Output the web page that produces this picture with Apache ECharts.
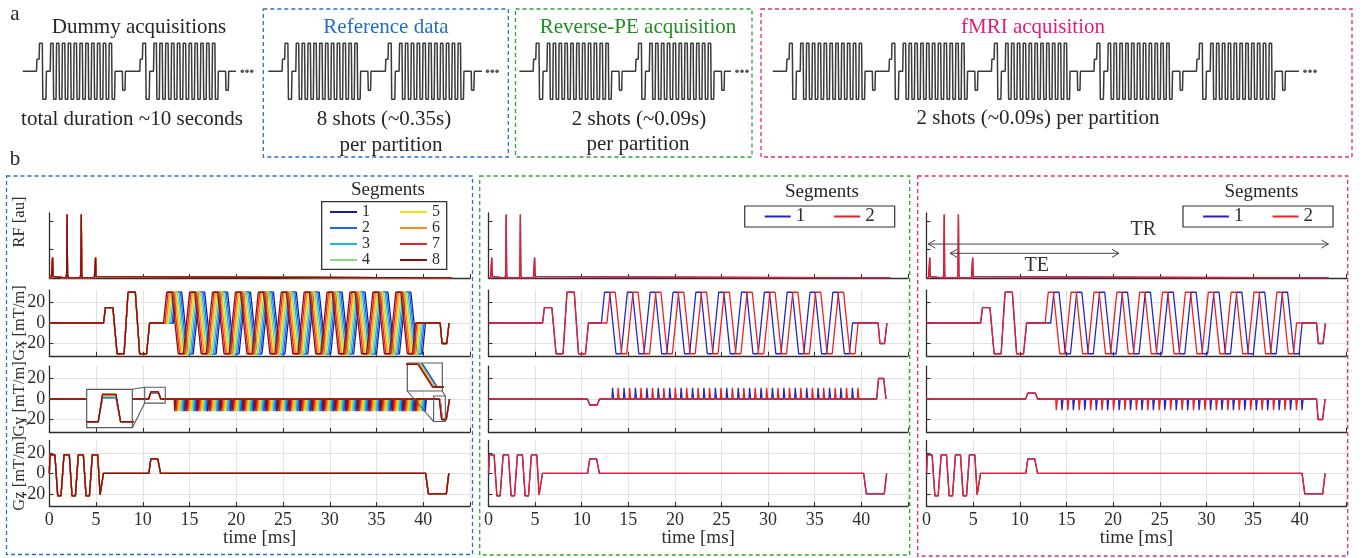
<!DOCTYPE html>
<html><head><meta charset="utf-8">
<script src="https://cdn.jsdelivr.net/npm/echarts@6.0.0/dist/echarts.min.js"></script>
<style>html,body{margin:0;padding:0;background:#fff}#c{width:1363px;height:558px}</style>
</head><body><div id="c"></div>
<script>
// ================= DATA =================
// time axis
const timeTickLabels = [0, 5, 10, 15, 20, 25, 30, 35, 40];
const timeTickMarks = [0, 5, 10, 15, 20, 25, 30, 35, 40, 45];
const gradTicks = [-20, 0, 20];
const rfTicks = [1, 2];

// RF pulses [ms], [au]
const rfT = [0, 0.22, 0.3, 0.35, 0.4, 0.48, 1.77, 1.85, 1.9, 1.95, 2.03, 3.29, 3.37, 3.42, 3.47, 3.55, 4.82, 4.9, 4.95, 5.0, 5.08, 43.1];
const rfA = [0, 0, 0.05, 0.72, 0.05, 0, 0, 0.12, 2.25, 0.12, 0, 0, 0.12, 2.25, 0.12, 0, 0, 0.05, 0.72, 0.05, 0, 0];

// Gx: prephasing part, EPI readout (reference segment), post part
const gxPreT = [0, 5.8, 6.0, 6.8, 7.25, 8.0, 8.42, 9.2, 9.66, 10.4, 10.73];
const gxPreG = [0, 0, 15, 15, -30, -30, 30, 30, -30, -30, 0];
const gxReadT = [12.11, 12.45, 13.00, 13.68, 14.23, 14.90, 15.45, 16.13, 16.68, 17.35, 17.90, 18.58, 19.13, 19.80,
  20.35, 21.03, 21.58, 22.25, 22.80, 23.48, 24.03, 24.70, 25.25, 25.93, 26.48, 27.15, 27.70, 28.38, 28.93, 29.60,
  30.15, 30.83, 31.38, 32.05, 32.60, 33.28, 33.83, 34.50, 35.05, 35.73, 36.28, 36.95, 37.50, 38.18, 38.73, 39.06];
const gxReadG = [0, 30, 30, -30, -30, 30, 30, -30, -30, 30, 30, -30, -30, 30,
  30, -30, -30, 30, 30, -30, -30, 30, 30, -30, -30, 30, 30, -30, -30, 30,
  30, -30, -30, 30, 30, -30, -30, 30, 30, -30, -30, 30, 30, -30, -30, 0];
const gxPostT = [41.8, 42.0, 42.5, 42.75];
const gxPostG = [0, -20, -20, 0];

// Gz
const gzT = [0, 0.08, 0.6, 0.9, 1.25, 1.57, 2.14, 2.43, 2.79, 3.1, 3.64, 3.93, 4.29, 4.6, 5.18, 5.43, 5.6, 5.79, 10.64, 10.86, 11.6, 11.9, 40.25, 40.54, 42.46, 42.72];
const gzG = [0, 18, 18, -22, -22, 18, 18, -22, -22, 18, 18, -22, -22, 18, 18, -21, -21, 0, 0, 14, 14, 0, 0, -20, -20, 0];

// Gy: prephaser lobe shape, blip centres, blip shape
const gyPreT = [0, 10.62, 10.87, 11.65, 11.92];
const gyPreLevel = [0, 0, 1, 1, 0];
const blipT = [13.34, 14.57, 15.79, 17.02, 18.24, 19.47, 20.69, 21.92, 23.14, 24.37, 25.59, 26.82, 28.04, 29.27, 30.49, 31.72, 32.94, 34.17, 35.39, 36.62, 37.84, 39.07];
const blipShapeDt = [-0.09, -0.03, 0.03, 0.09];
const blipShapeLevel = [0, 1, 1, 0];

// panel 1 (8 segments)
const p1Names = ['1', '2', '3', '4', '5', '6', '7', '8'];
const p1Colors = ['#1a1aa8', '#1666ee', '#1fb2e8', '#7fdf7f', '#f3df0a', '#ff8a1c', '#ee2222', '#8c0f0f'];
const p1Shift = [1.17, 1.02, 0.87, 0.71, 0.56, 0.41, 0.25, 0.10];
const p1GyPreAmp = [6.02, 6.16, 6.30, 6.44, 6.58, 6.72, 6.86, 7.00];
const p1BlipAmp = -12;
const p1GyRewT = [41.7, 41.95, 42.45, 42.8];
const p1GyRewG = [0, -20, -20, 0];
const p1RewDelay = [0.084, 0.072, 0.060, 0.048, 0.036, 0.024, 0.012, 0];

// panel 2 (reverse PE, 2 segments)
const p2Names = ['1 ', '2 '];
const p23Colors = ['#2323cc', '#ee1f1f'];
const p2Shift = [0, 0.6];
const p2GyPreAmp = [-6.0, -5.6];
const p2BlipAmp = 11;
const p2GyRewT = [41.65, 41.85, 42.4, 42.65];
const p2GyRewG = [0, 20, 20, 0];
const p2RewDelay = [0, 0];

// panel 3 (fMRI, 2 segments)
const p3Shift = [1.2, 0.6];
const p3GyPreAmp = [5.7, 6.0];
const p3BlipAmp = -11;
const p3GyRewT = [41.8, 41.97, 42.45, 42.72];
const p3GyRewG = [0, -20, -20, 0];
const p3RewDelay = [0, 0];

// TR / TE arrows (t0, t1, y, labelT, labelY) in panel 3 RF units
const arrowLabels = ['TR', 'TE'];
const arrowData = [[0.19, 43.07, 1.2, 23.24, 1.70], [2.52, 20.63, 0.874, 11.81, 0.435]];

// ---- section (a): schematic shot waveform (pattern units = px)
const shotX = [0, 13.8, 14.2, 16.4, 16.8, 19.6, 20.1, 23.2, 23.7, 27.5,
  28.0, 30.4, 30.9, 33.35, 33.85, 36.25, 36.75, 39.2, 39.7, 42.1, 42.6, 45.05,
  45.55, 47.95, 48.45, 50.9, 51.4, 53.8, 54.3, 56.75, 57.25, 59.65, 60.15, 62.6,
  63.1, 65.5, 66.0, 68.45, 68.95, 71.35, 71.85, 74.3, 74.8, 77.2, 77.7, 80.15,
  80.65, 83.05, 83.55, 86.0, 86.5, 88.9, 89.4, 91.85,
  92.35, 99.6, 100.0, 102.3, 102.7, 103.3];
const shotY = [0, 0, 0.43, 0.43, 1, 1, -1, -1, 0, 0,
  1, 1, -1, -1, 1, 1, -1, -1, 1, 1, -1, -1,
  1, 1, -1, -1, 1, 1, -1, -1, 1, 1, -1, -1,
  1, 1, -1, -1, 1, 1, -1, -1, 1, 1, -1, -1,
  1, 1, -1, -1, 1, 1, -1, -1,
  0, 0, -0.68, -0.68, 0, 0];
const dummyShots = [22.7, 126.0], dummyTail = 236, dummyDots = [242.3, 247, 251.7];
const refShots = [268.3, 371.6], refTail = 482, refDots = [487.5, 492.3, 497.1];
const revShots = [519.4, 621.8], revTail = 731, revDots = [737, 742, 747];
const fmriShots = [772.7, 875.2, 977.7, 1080.2, 1182.7], fmriTail = 1299, fmriDots = [1305, 1310, 1315];

// ================= BUILD =================
const FONT = 'Liberation Serif';
const FONTCSS = '"Liberation Serif", "Times New Roman", serif';
const AX = '#2e2e2e';
const GRIDC = '#e2e2e2';

function pts(T, G, dt) { return T.map((t, i) => [t + (dt || 0), G[i]]); }
function gxData(dt) { return [].concat(pts(gxPreT, gxPreG), pts(gxReadT, gxReadG, dt), pts(gxPostT, gxPostG)); }
function gyData(preAmp, dt, blipAmp, rewT, rewG, rewDelay) {
  let out = gyPreT.map((t, i) => [t, gyPreLevel[i] * preAmp]);
  blipT.forEach(c => blipShapeDt.forEach((d, j) => out.push([c + dt + d, blipShapeLevel[j] * blipAmp])));
  rewT.forEach((t, i) => out.push([i < 2 ? t + rewDelay : t, rewG[i]]));
  return out;
}

const panels = [
  { left: 49.3, width: 420.8, names: p1Names, colors: p1Colors, shift: p1Shift, pre: p1GyPreAmp, blip: p1BlipAmp, rewT: p1GyRewT, rewG: p1GyRewG, rewD: p1RewDelay },
  { left: 488.5, width: 419.4, names: p2Names, colors: p23Colors, shift: p2Shift, pre: p2GyPreAmp, blip: p2BlipAmp, rewT: p2GyRewT, rewG: p2GyRewG, rewD: p2RewDelay },
  { left: 926.5, width: 419.9, names: p2Names, colors: p23Colors, shift: p3Shift, pre: p3GyPreAmp, blip: p3BlipAmp, rewT: p3GyRewT, rewG: p3GyRewG, rewD: p3RewDelay }
];
const rows = [
  { top: 213, height: 65, min: 0, max: 2.3, ticks: rfTicks, name: 'RF [au]', grid: false, labels: false },
  { top: 290.2, height: 65.6, min: -32, max: 32, ticks: gradTicks, name: 'Gx [mT/m]', grid: true, labels: true },
  { top: 366.2, height: 65.6, min: -32, max: 32, ticks: gradTicks, name: 'Gy [mT/m]', grid: true, labels: true },
  { top: 440.5, height: 65.6, min: -32, max: 32, ticks: gradTicks, name: 'Gz [mT/m]', grid: true, labels: true }
];

const option = { animation: false, grid: [], xAxis: [], yAxis: [], series: [], legend: [], graphic: { elements: [] } };

panels.forEach((P, p) => {
  rows.forEach((R, r) => {
    option.grid.push({ left: P.left, top: R.top, width: P.width, height: R.height, containLabel: false, outerBoundsMode: 'none' });
    option.xAxis.push({
      gridIndex: p * 4 + r, type: 'value', min: 0, max: 45, interval: 5,
      axisLine: { show: true, onZero: false, lineStyle: { color: AX, width: 1.3 } },
      axisTick: { show: true, inside: true, length: 4, customValues: timeTickMarks, lineStyle: { color: AX, width: 1.1 } },
      axisLabel: { show: r === 3, customValues: timeTickLabels, margin: 5, fontFamily: FONT, fontSize: 18, color: AX,
        formatter: v => (v === 45 ? '' : String(v)) },
      splitLine: { show: R.grid, lineStyle: { color: GRIDC, width: 1 } },
      name: r === 3 ? 'time [ms]' : '', nameLocation: 'middle', nameGap: 22, nameMoveOverlap: false,
      nameTextStyle: { fontFamily: FONT, fontSize: 19, color: AX }
    });
    option.yAxis.push({
      gridIndex: p * 4 + r, type: 'value', min: R.min, max: R.max,
      axisLine: { show: true, onZero: false, lineStyle: { color: AX, width: 1.3 } },
      axisTick: { show: true, inside: true, length: 4, customValues: R.ticks, lineStyle: { color: AX, width: 1.1 } },
      axisLabel: { show: p === 0 && R.labels, customValues: R.ticks, margin: 4, fontFamily: FONT, fontSize: 18, color: AX },
      splitLine: { show: R.grid, lineStyle: { color: GRIDC, width: 1 } },
      name: p === 0 ? R.name : '', nameLocation: 'middle', nameRotate: 90, nameGap: 21, nameMoveOverlap: false,
      nameTextStyle: { fontFamily: FONT, fontSize: 16.5, color: AX, padding: r === 0 ? [0, 0, 0, 47] : 0 }
    });
  });
  P.names.forEach((nm, k) => {
    const col = P.colors[k];
    const base = { type: 'line', name: nm, showSymbol: false, symbol: 'none', silent: true, animation: false,
      lineStyle: { width: 1.3, color: col }, itemStyle: { color: col }, z: 2 };
    option.series.push(Object.assign({}, base, { xAxisIndex: p * 4, yAxisIndex: p * 4, data: pts(rfT, rfA) }));
    option.series.push(Object.assign({}, base, { xAxisIndex: p * 4 + 1, yAxisIndex: p * 4 + 1, data: gxData(P.shift[k]) }));
    option.series.push(Object.assign({}, base, { xAxisIndex: p * 4 + 2, yAxisIndex: p * 4 + 2,
      data: gyData(P.pre[k], P.shift[k], P.blip, P.rewT, P.rewG, P.rewD[k]) }));
    option.series.push(Object.assign({}, base, { xAxisIndex: p * 4 + 3, yAxisIndex: p * 4 + 3, data: pts(gzT, gzG) }));
  });
});

// insets (grid 12: prephaser zoom, grid 13: rewinder ramp zoom)
const insets = [
  { left: 86.7, top: 389.3, width: 45.6, height: 38.4, xr: [9.95, 12.6], yr: [-1.5, 8.2], rect: [10.2, 12.4, -4, 11.5] },
  { left: 407.3, top: 363, width: 35, height: 28, xr: [41.52, 42.12], yr: [-23.5, 1.1], rect: [41.1, 42.35, -22, 3] }
];
insets.forEach((I, n) => {
  const gi = 12 + n;
  option.grid.push({ left: I.left, top: I.top, width: I.width, height: I.height, show: true, backgroundColor: '#fff',
    borderColor: '#5a5a5a', borderWidth: 1.2, z: 5, containLabel: false, outerBoundsMode: 'none' });
  option.xAxis.push({ gridIndex: gi, type: 'value', min: I.xr[0], max: I.xr[1], show: false });
  option.yAxis.push({ gridIndex: gi, type: 'value', min: I.yr[0], max: I.yr[1], show: false });
  p1Names.forEach((nm, k) => {
    option.series.push({ type: 'line', name: 'inset' + n + '_' + k, xAxisIndex: gi, yAxisIndex: gi, clip: true,
      showSymbol: false, symbol: 'none', silent: true, z: 6,
      lineStyle: { width: 1.3, color: p1Colors[k] }, itemStyle: { color: p1Colors[k] },
      data: gyData(p1GyPreAmp[k], p1Shift[k], p1BlipAmp, p1GyRewT, p1GyRewG, p1RewDelay[k]) });
  });
});

// TR / TE arrows on panel 3 RF
option.series.push({
  type: 'custom', name: 'arrows', xAxisIndex: 8, yAxisIndex: 8, silent: true, clip: false, z: 3,
  encode: { x: [0, 1, 3], y: [2, 4] },
  data: arrowData,
  renderItem: (params, api) => {
    const y = api.value(2);
    const p0 = api.coord([api.value(0), y]);
    const p1 = api.coord([api.value(1), y]);
    const lt = api.coord([api.value(3), api.value(4)]);
    const h = 7, w = 4;
    const st = { stroke: '#444', fill: 'none', lineWidth: 1 };
    return { type: 'group', children: [
      { type: 'line', shape: { x1: p0[0], y1: p0[1], x2: p1[0], y2: p1[1] }, style: st },
      { type: 'polyline', shape: { points: [[p0[0] + h, p0[1] - w], [p0[0], p0[1]], [p0[0] + h, p0[1] + w]] }, style: st },
      { type: 'polyline', shape: { points: [[p1[0] - h, p1[1] - w], [p1[0], p1[1]], [p1[0] - h, p1[1] + w]] }, style: st },
      { type: 'text', x: lt[0], y: lt[1], style: { text: arrowLabels[params.dataIndex], font: '20px ' + FONTCSS, fill: '#333', align: 'center', verticalAlign: 'middle' } }
    ] };
  }
});

// section (a) schematic grid (index 14)
option.grid.push({ left: 0, top: 37.7, width: 1363, height: 67.2, containLabel: false, outerBoundsMode: 'none' });
option.xAxis.push({ gridIndex: 14, type: 'value', min: 0, max: 1363, show: false });
option.yAxis.push({ gridIndex: 14, type: 'value', min: -1.2, max: 1.2, show: false });
[[dummyShots, dummyTail, dummyDots], [refShots, refTail, refDots], [revShots, revTail, revDots], [fmriShots, fmriTail, fmriDots]]
  .forEach(([shots, tail, dots], b) => {
    let d = [];
    shots.forEach(s => shotX.forEach((x, i) => d.push([x + s, shotY[i]])));
    d.push([tail, 0]);
    option.series.push({ type: 'line', name: 'schem' + b, xAxisIndex: 14, yAxisIndex: 14, data: d, showSymbol: false, symbol: 'none',
      silent: true, lineStyle: { width: 1.5, color: '#3a3a3a' }, z: 2 });
    option.series.push({ type: 'scatter', name: 'dots' + b, xAxisIndex: 14, yAxisIndex: 14, data: dots.map(x => [x, 0]),
      symbolSize: 3.6, itemStyle: { color: '#2a2a2a' }, silent: true, z: 3 });
  });

// legends
const legTxt = { fontFamily: FONT, color: AX };
option.legend.push({ data: ['1', '2', '3', '4'], orient: 'vertical', left: 330, top: 204, itemWidth: 27, itemHeight: 2, itemGap: 0,
  icon: 'rect', padding: 0, selectedMode: false, textStyle: Object.assign({ fontSize: 16, lineHeight: 15.5 }, legTxt), z: 6 });
option.legend.push({ data: ['5', '6', '7', '8'], orient: 'vertical', left: 400, top: 204, itemWidth: 27, itemHeight: 2, itemGap: 0,
  icon: 'rect', padding: 0, selectedMode: false, textStyle: Object.assign({ fontSize: 16, lineHeight: 15.5 }, legTxt), z: 6 });
[744.7, 1183].forEach(lx => option.legend.push({ data: p2Names, orient: 'horizontal', left: lx, top: 206, itemWidth: 26, itemHeight: 2,
  itemGap: 29, icon: 'rect', padding: [1, 20, 1, 20], borderColor: '#333', borderWidth: 1.2, backgroundColor: '#fff',
  selectedMode: false, formatter: n => n.trim(), textStyle: Object.assign({ fontSize: 19 }, legTxt), z: 6 }));

// graphic texts & boxes
const G = option.graphic.elements;
function txt(id, s, x, y, size, color, align) {
  G.push({ type: 'text', id, x, y, silent: true, z: 10,
    style: { text: s, font: size + 'px ' + FONTCSS, fill: color || '#262626', align: align || 'center', verticalAlign: 'middle' } });
}
function dbox(id, x, y, w, h, col) {
  G.push({ type: 'rect', id, silent: true, z: 1, shape: { x, y, width: w, height: h },
    style: { fill: 'none', stroke: col, lineWidth: 1.3, lineDash: [4, 3] } });
}
const BLUE = '#2b6fc4', GREEN = '#33a033', MAG = '#e6287c';
txt('la', 'a', 15, 14, 21);
txt('lb', 'b', 15, 159, 21);
txt('t1', 'Dummy acquisitions', 139, 27.5, 21);
txt('t2', 'Reference data', 386, 27.5, 21, '#1f6ec8');
txt('t3', 'Reverse-PE acquisition', 638, 27.5, 21, '#1e8e1e');
txt('t4', 'fMRI acquisition', 1033, 27.5, 21, '#e6197c');
txt('s1', 'total duration ~10 seconds', 132, 119, 21);
txt('s2', '8 shots (~0.35s)', 384, 119, 21);
txt('s2b', 'per partition', 391, 145, 21);
txt('s3', '2 shots (~0.09s)', 639, 119, 21);
txt('s3b', 'per partition', 638, 144, 21);
txt('s4', '2 shots (~0.09s) per partition', 1038, 118, 21);
dbox('ba1', 263.3, 9, 245, 148, BLUE);
dbox('ba2', 515.5, 9, 236.5, 148, GREEN);
dbox('ba3', 761, 9, 591, 148, MAG);
dbox('bb1', 6.5, 176, 466, 378.5, BLUE);
dbox('bb2', 479.7, 176, 430, 379, GREEN);
dbox('bb3', 917.7, 176, 430, 380, MAG);
G.push({ type: 'rect', id: 'legbox1', silent: true, z: 3, shape: { x: 321.7, y: 201.7, width: 125, height: 67.6 },
  style: { fill: '#fff', stroke: '#333', lineWidth: 1.3 } });
txt('seg1', 'Segments', 388, 190, 19);
txt('seg2', 'Segments', 822, 192.5, 19);
txt('seg3', 'Segments', 1261.5, 192.5, 19);

const chart = echarts.init(document.getElementById('c'), null, { renderer: 'canvas' });
chart.setOption(option);

// inset locator rectangles + connectors (through the library's coordinate conversion)
const extra = [];
const LS = { stroke: '#5a5a5a', lineWidth: 1.1, fill: 'none' };
insets.forEach((I, n) => {
  const a = chart.convertToPixel({ gridIndex: 2 }, [I.rect[0], I.rect[3]]);
  const b = chart.convertToPixel({ gridIndex: 2 }, [I.rect[1], I.rect[2]]);
  const ia = chart.convertToPixel({ gridIndex: 12 + n }, [I.xr[0], I.yr[1]]);
  const ib = chart.convertToPixel({ gridIndex: 12 + n }, [I.xr[1], I.yr[0]]);
  extra.push({ type: 'rect', id: 'loc' + n, silent: true, z: 7, shape: { x: a[0], y: a[1], width: b[0] - a[0], height: b[1] - a[1] }, style: LS });
  if (n === 0) {
    extra.push({ type: 'line', id: 'c0a', silent: true, z: 7, shape: { x1: ib[0], y1: ia[1], x2: a[0], y2: a[1] }, style: LS });
    extra.push({ type: 'line', id: 'c0b', silent: true, z: 7, shape: { x1: ib[0], y1: ib[1], x2: a[0], y2: b[1] }, style: LS });
  } else {
    extra.push({ type: 'line', id: 'c1a', silent: true, z: 7, shape: { x1: ia[0], y1: ib[1], x2: a[0], y2: b[1] }, style: LS });
    extra.push({ type: 'line', id: 'c1b', silent: true, z: 7, shape: { x1: ib[0], y1: ib[1], x2: b[0], y2: a[1] }, style: LS });
  }
});
chart.setOption({ graphic: { elements: extra } });
</script></body></html>
